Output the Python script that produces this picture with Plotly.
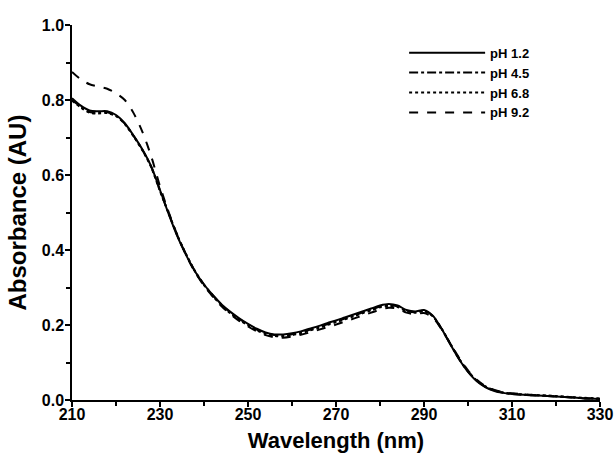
import plotly.graph_objects as go

wavelength = [210, 212, 214, 216, 218, 220, 222, 224, 226, 228, 230, 232, 234, 236, 238,
              240, 242, 244, 246, 248, 250, 252, 254, 256, 258, 260, 262, 264, 266, 268,
              270, 272, 274, 276, 278, 280, 282, 284, 286, 288, 290, 292, 294, 296, 298,
              300, 302, 304, 306, 308, 310, 314, 318, 322, 326, 330]

ph_1_2 = [0.805, 0.785, 0.772, 0.770, 0.770, 0.760, 0.738, 0.705, 0.668, 0.623, 0.560, 0.495, 0.435, 0.385, 0.342,
          0.308, 0.280, 0.255, 0.235, 0.218, 0.203, 0.190, 0.180, 0.175, 0.175, 0.178, 0.183, 0.190, 0.197, 0.205,
          0.212, 0.220, 0.228, 0.236, 0.244, 0.252, 0.256, 0.252, 0.240, 0.236, 0.240, 0.225, 0.190, 0.148, 0.108,
          0.075, 0.050, 0.034, 0.024, 0.019, 0.016, 0.013, 0.011, 0.008, 0.005, 0.003]

ph_4_5 = [0.800, 0.782, 0.768, 0.766, 0.767, 0.758, 0.737, 0.704, 0.667, 0.622, 0.558, 0.497, 0.437, 0.387, 0.343,
          0.308, 0.279, 0.254, 0.233, 0.216, 0.201, 0.188, 0.178, 0.173, 0.172, 0.175, 0.180, 0.187, 0.194, 0.202,
          0.209, 0.217, 0.225, 0.233, 0.241, 0.249, 0.253, 0.250, 0.238, 0.234, 0.238, 0.224, 0.190, 0.149, 0.109,
          0.076, 0.051, 0.035, 0.025, 0.019, 0.016, 0.013, 0.011, 0.008, 0.005, 0.003]

ph_6_8 = [0.798, 0.780, 0.766, 0.764, 0.765, 0.757, 0.736, 0.703, 0.666, 0.621, 0.557, 0.497, 0.437, 0.387, 0.342,
          0.306, 0.277, 0.252, 0.231, 0.214, 0.199, 0.186, 0.176, 0.171, 0.170, 0.173, 0.178, 0.185, 0.192, 0.200,
          0.207, 0.215, 0.223, 0.231, 0.239, 0.247, 0.251, 0.248, 0.237, 0.233, 0.237, 0.223, 0.190, 0.150, 0.110,
          0.077, 0.052, 0.036, 0.026, 0.020, 0.017, 0.014, 0.012, 0.009, 0.006, 0.004]

ph_9_2 = [0.875, 0.855, 0.842, 0.836, 0.830, 0.818, 0.800, 0.765, 0.715, 0.650, 0.570, 0.500, 0.438, 0.385, 0.340,
          0.305, 0.276, 0.250, 0.229, 0.211, 0.196, 0.183, 0.173, 0.167, 0.166, 0.169, 0.174, 0.180, 0.187, 0.194,
          0.201, 0.209, 0.217, 0.225, 0.233, 0.241, 0.246, 0.244, 0.233, 0.229, 0.232, 0.220, 0.188, 0.150, 0.112,
          0.079, 0.054, 0.037, 0.027, 0.021, 0.018, 0.014, 0.011, 0.008, 0.005, 0.003]

series_names = ["pH 1.2", "pH 4.5", "pH 6.8", "pH 9.2"]
series_values = [ph_1_2, ph_4_5, ph_6_8, ph_9_2]
dash_styles = ["solid", "dashdot", "dot", "dash"]

FONT = "Arial, Liberation Sans, sans-serif"

fig = go.Figure()
for name, vals, dash in zip(series_names, series_values, dash_styles):
    fig.add_trace(go.Scatter(
        x=wavelength, y=vals, name=name, mode="lines",
        line=dict(color="black", width=2, dash=dash, shape="spline", smoothing=0.8),
    ))

fig.update_layout(
    width=616, height=456,
    margin=dict(l=72, r=16, t=25, b=56),
    paper_bgcolor="white", plot_bgcolor="white",
    font=dict(family=FONT, color="black"),
    showlegend=True,
    legend=dict(
        x=0.629, y=0.966, xanchor="left", yanchor="top",
        bgcolor="rgba(0,0,0,0)",
        font=dict(family=FONT, size=13, color="black", weight="bold"),
        tracegroupgap=0, itemwidth=76,
    ),
    annotations=[dict(
        text="Absorbance (AU)", textangle=-90, showarrow=False,
        xref="paper", yref="paper", x=-0.104, y=0.5, xanchor="center", yanchor="middle",
        font=dict(family=FONT, size=24, color="black", weight="bold"),
    )],
)

fig.update_xaxes(
    range=[210, 330], tickmode="array", tickvals=[210, 230, 250, 270, 290, 310, 330],
    showgrid=False, zeroline=False, showline=True, linecolor="black", linewidth=1.5,
    ticks="outside", ticklen=5, tickwidth=1.5, tickcolor="black", automargin=False,
    ticklabelstandoff=-6,
    tickfont=dict(family=FONT, size=16, color="black", weight="bold"),
    minor=dict(ticks="outside", ticklen=4, tickwidth=1.5, tickcolor="black", dtick=10, tick0=210),
    title=dict(text="Wavelength (nm)", font=dict(family=FONT, size=22, color="black", weight="bold"), standoff=11),
)
fig.update_yaxes(
    range=[0, 1.0], tickmode="array", tickvals=[0, 0.2, 0.4, 0.6, 0.8, 1.0],
    ticktext=["0.0", "0.2", "0.4", "0.6", "0.8", "1.0"],
    showgrid=False, zeroline=False, showline=True, linecolor="black", linewidth=1.5,
    ticks="outside", ticklen=5, tickwidth=1.5, tickcolor="black", automargin=False,
    ticklabelstandoff=-2,
    tickfont=dict(family=FONT, size=16, color="black", weight="bold"),
    minor=dict(ticks="outside", ticklen=4, tickwidth=1.5, tickcolor="black", dtick=0.1, tick0=0),
)

fig.write_html("out.html", config={"displayModeBar": False},
               post_script="document.body.style.margin='0';")
